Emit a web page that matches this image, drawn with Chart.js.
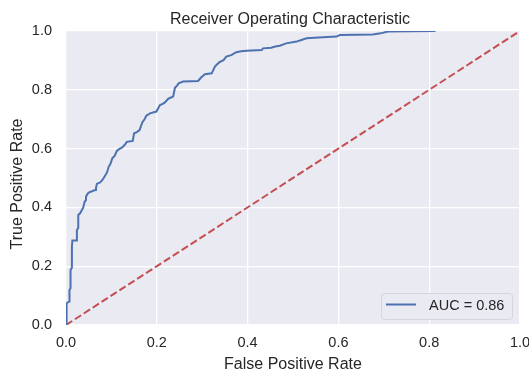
<!DOCTYPE html>
<html>
<head>
<meta charset="utf-8">
<script src="https://cdn.jsdelivr.net/npm/chart.js@4/dist/chart.umd.min.js"></script>
<style>
  html, body { margin: 0; padding: 0; background: #ffffff; }
  #wrap { width: 529px; height: 374px; }
</style>
</head>
<body>
<div id="wrap"><canvas id="c" width="529" height="374"></canvas></div>
<script>
// ---- data ----
const fpr = [0.000,0.000,0.002,0.002,0.007,0.007,0.008,0.008,0.010,0.010,0.013,0.013,0.014,0.024,0.024,0.027,0.027,0.031,0.035,0.038,0.041,0.044,0.044,0.047,0.050,0.064,0.066,0.068,0.075,0.079,0.083,0.087,0.090,0.092,0.094,0.098,0.102,0.107,0.112,0.117,0.123,0.129,0.134,0.147,0.150,0.156,0.162,0.168,0.173,0.177,0.185,0.199,0.207,0.213,0.218,0.225,0.230,0.236,0.240,0.245,0.248,0.258,0.291,0.297,0.302,0.306,0.321,0.328,0.333,0.338,0.347,0.353,0.364,0.375,0.386,0.398,0.431,0.434,0.452,0.461,0.471,0.485,0.508,0.520,0.530,0.566,0.596,0.603,0.676,0.693,0.709,0.814];
const tpr = [0.000,0.030,0.045,0.074,0.080,0.090,0.095,0.119,0.125,0.187,0.195,0.266,0.287,0.287,0.323,0.330,0.374,0.380,0.391,0.400,0.419,0.425,0.436,0.445,0.450,0.459,0.465,0.480,0.485,0.491,0.500,0.510,0.518,0.527,0.538,0.548,0.567,0.575,0.592,0.598,0.603,0.612,0.623,0.626,0.652,0.656,0.663,0.689,0.700,0.712,0.720,0.726,0.748,0.752,0.757,0.769,0.773,0.777,0.807,0.815,0.822,0.828,0.830,0.841,0.848,0.853,0.856,0.879,0.887,0.894,0.901,0.913,0.918,0.928,0.931,0.933,0.935,0.941,0.943,0.947,0.950,0.958,0.964,0.970,0.975,0.979,0.981,0.986,0.988,0.992,0.998,1.000];
const diagX = [0, 1];
const diagY = [0, 1];
const tickValues = [0, 0.2, 0.4, 0.6, 0.8, 1.0];
const tickLabels = ['0.0', '0.2', '0.4', '0.6', '0.8', '1.0'];
const aucLabel = 'AUC = 0.86';
const titleText = 'Receiver Operating Characteristic';
const xTitle = 'False Positive Rate';
const yTitle = 'True Positive Rate';

const FONT = '"Liberation Sans", Arial, Helvetica, sans-serif';
const TEXT = '#262626';

const rocPoints = fpr.map((x, i) => ({ x: x, y: tpr[i] }));
const diagPoints = diagX.map((x, i) => ({ x: x, y: diagY[i] }));

function tickLabel(v) {
  const i = tickValues.findIndex(t => Math.abs(t - v) < 1e-6);
  return i >= 0 ? tickLabels[i] : '';
}

const decor = {
  id: 'decor',
  beforeDraw(chart) {
    const { ctx, chartArea: a } = chart;
    ctx.save();
    ctx.fillStyle = '#ffffff';
    ctx.fillRect(0, 0, chart.width, chart.height);
    ctx.fillStyle = '#eaeaf2';
    ctx.fillRect(a.left, a.top, a.right - a.left, a.bottom - a.top);
    ctx.restore();
  },
  afterDraw(chart) {
    const { ctx, chartArea: a } = chart;
    const cx = (a.left + a.right) / 2;
    const cy = (a.top + a.bottom) / 2;
    ctx.save();
    ctx.fillStyle = TEXT;
    ctx.textAlign = 'center';
    ctx.textBaseline = 'alphabetic';
    ctx.font = '16px ' + FONT;
    ctx.fillText(titleText, cx - 3, 23.5);
    ctx.fillText(xTitle, cx, 369);
    ctx.save();
    ctx.translate(21.5, cy + 6);
    ctx.rotate(-Math.PI / 2);
    ctx.fillText(yTitle, 0, 0);
    ctx.restore();

    // legend box
    const bx = 381.5, by = 293.5, bw = 131, bh = 26, r = 3;
    ctx.beginPath();
    ctx.moveTo(bx + r, by);
    ctx.lineTo(bx + bw - r, by);
    ctx.arcTo(bx + bw, by, bx + bw, by + r, r);
    ctx.lineTo(bx + bw, by + bh - r);
    ctx.arcTo(bx + bw, by + bh, bx + bw - r, by + bh, r);
    ctx.lineTo(bx + r, by + bh);
    ctx.arcTo(bx, by + bh, bx, by + bh - r, r);
    ctx.lineTo(bx, by + r);
    ctx.arcTo(bx, by, bx + r, by, r);
    ctx.closePath();
    ctx.fillStyle = 'rgba(234,234,242,0.9)';
    ctx.fill();
    ctx.strokeStyle = '#d4d4dc';
    ctx.lineWidth = 1;
    ctx.stroke();
    ctx.beginPath();
    ctx.moveTo(386, 304.5);
    ctx.lineTo(416, 304.5);
    ctx.strokeStyle = '#4c72b0';
    ctx.lineWidth = 2;
    ctx.stroke();
    ctx.fillStyle = TEXT;
    ctx.font = '14.5px ' + FONT;
    ctx.textAlign = 'left';
    ctx.textBaseline = 'middle';
    ctx.fillText(aucLabel, 429, 306);
    ctx.restore();
  }
};

new Chart(document.getElementById('c'), {
  type: 'line',
  data: {
    datasets: [
      {
        label: aucLabel,
        data: rocPoints,
        borderColor: '#4c72b0',
        borderWidth: 2,
        pointRadius: 0,
        tension: 0,
        fill: false,
        clip: 0
      },
      {
        label: 'chance',
        data: diagPoints,
        borderColor: '#c44e52',
        borderWidth: 2,
        borderDash: [7.4, 3.2],
        pointRadius: 0,
        tension: 0,
        fill: false,
        clip: 0
      }
    ]
  },
  options: {
    responsive: false,
    animation: false,
    events: [],
    layout: { padding: { left: 0, right: 9, top: 31, bottom: 0 } },
    plugins: {
      legend: { display: false },
      title: { display: false },
      tooltip: { enabled: false }
    },
    scales: {
      x: {
        type: 'linear',
        min: 0, max: 1,
        afterFit(s) { s.height = 49; s.paddingLeft = 0; s.paddingRight = 0; },
        afterBuildTicks(s) { s.ticks = tickValues.map(v => ({ value: v })); },
        border: { display: false },
        grid: { color: '#ffffff', lineWidth: 1.3, drawTicks: false },
        ticks: {
          callback: tickLabel,
          color: TEXT,
          font: { family: FONT, size: 14.5 },
          padding: 9,
          maxRotation: 0,
          autoSkip: false
        }
      },
      y: {
        type: 'linear',
        min: 0, max: 1,
        afterFit(s) { s.width = 66; s.paddingTop = 0; s.paddingBottom = 0; },
        afterBuildTicks(s) { s.ticks = tickValues.map(v => ({ value: v })); },
        border: { display: false },
        grid: { color: '#ffffff', lineWidth: 1.3, drawTicks: false },
        ticks: {
          callback: tickLabel,
          color: TEXT,
          font: { family: FONT, size: 14.5 },
          padding: 14,
          autoSkip: false
        }
      }
    }
  },
  plugins: [decor]
});
</script>
</body>
</html>
